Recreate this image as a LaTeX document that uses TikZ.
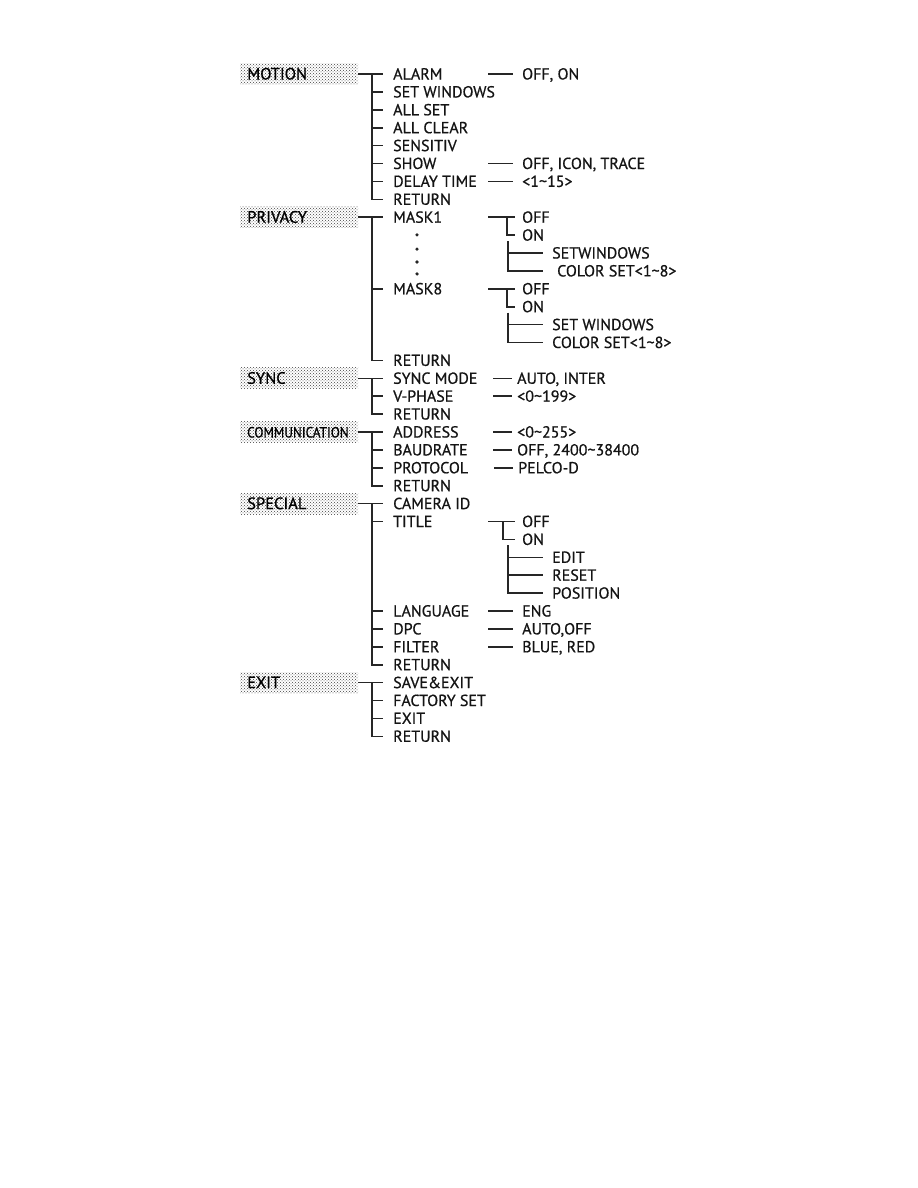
\documentclass[tikz,border=0pt]{standalone}
\usepackage{fontspec}
\setmainfont{PT Sans}[BoldFont=PT Sans,BoldFeatures={FakeBold=0.7}]
\usetikzlibrary{patterns}
\begin{document}
\begin{tikzpicture}[x=1pt,y=-17.9pt,
 item/.style={anchor=west,inner sep=0pt,text height=11pt,text depth=0pt,font=\fontsize{16}{18}\selectfont\bfseries,text=black!92},
 cat/.style={anchor=west,inner xsep=7pt,inner ysep=0pt,minimum height=21pt,text width=104pt,align=left,pattern=crosshatch dots,pattern color=black!75,font=\fontsize{16.5}{18}\selectfont\bfseries,text height=11pt,text depth=0pt,text=black},
 ln/.style={draw=black!85,line width=1.6pt},
 dotn/.style={circle,fill=black!85,inner sep=0pt,minimum size=3.6pt}]
\useasboundingbox (0,0) rectangle (918,66.369);
\begin{scope}[yshift=-74pt]
% ---------- MOTION ----------
\node[cat] (motion) at (240,0) {MOTION};
\node[item] (m0) at (393,0) {ALARM};
\node[item] (m1) at (393,1) {SET WINDOWS};
\node[item] (m2) at (393,2) {ALL SET};
\node[item] (m3) at (393,3) {ALL CLEAR};
\node[item] (m4) at (393,4) {SENSITIV};
\node[item] (m5) at (393,5) {SHOW};
\node[item] (m6) at (393,6) {DELAY TIME};
\node[item] (m7) at (393,7) {RETURN};
\draw[ln] (motion.east) -- ([xshift=-10pt]m0.west);
\draw[ln] ([xshift=-21pt]m0.west) |- ([xshift=-10pt]m7.west);
\foreach \n in {m1,m2,m3,m4,m5,m6} \draw[ln] ([xshift=-21pt]\n.west) -- ([xshift=-10pt]\n.west);
\node[item] (va) at (522,0) {OFF, ON};
\node[item] (vs) at (522,5) {OFF, ICON, TRACE};
\node[item] (vd) at (522,6) {<1\textasciitilde 15>};
\foreach \n in {va,vs,vd} \draw[ln] ([xshift=-34pt]\n.west) -- ([xshift=-9pt]\n.west);
% ---------- PRIVACY ----------
\node[cat] (privacy) at (240,8) {PRIVACY};
\node[item] (p8) at (393,8) {MASK1};
\node[item] (p12) at (393,12) {MASK8};
\node[item] (p16) at (393,16) {RETURN};
\node[dotn] (d1) at (417,8.99) {};
\node[dotn] (d2) at (417,9.78) {};
\node[dotn] (d3) at (417,10.50) {};
\node[dotn] (d4) at (417,11.17) {};
\draw[ln] (privacy.east) -- ([xshift=-10pt]p8.west);
\draw[ln] ([xshift=-21pt]p8.west) |- ([xshift=-10pt]p16.west);
\draw[ln] ([xshift=-21pt]p12.west) -- ([xshift=-10pt]p12.west);
% mask1 subtree
\node[item] (o1) at (522,8) {OFF};
\node[item] (n1) at (522,9) {ON};
\node[item] (s1) at (552,10) {SETWINDOWS};
\node[item] (c1) at (557,11) {COLOR SET<1\textasciitilde 8>};
\draw[ln] ([xshift=-34pt]o1.west) -- ([xshift=-7pt]o1.west);
\draw[ln] ([xshift=-15pt]o1.west) |- ([xshift=-7pt]n1.west);
\draw[ln] ([xshift=-14pt,yshift=-6pt]n1.west) |- ([xshift=-14pt]c1.west);
\draw[ln] ([xshift=-44pt]s1.west) -- ([xshift=-9pt]s1.west);
% mask8 subtree
\node[item] (o2) at (522,12) {OFF};
\node[item] (n2) at (522,13) {ON};
\node[item] (s2) at (552,14) {SET WINDOWS};
\node[item] (c2) at (552,15) {COLOR SET<1\textasciitilde 8>};
\draw[ln] ([xshift=-34pt]o2.west) -- ([xshift=-7pt]o2.west);
\draw[ln] ([xshift=-15pt]o2.west) |- ([xshift=-7pt]n2.west);
\draw[ln] ([xshift=-14pt,yshift=-6pt]n2.west) |- ([xshift=-9pt]c2.west);
\draw[ln] ([xshift=-44pt]s2.west) -- ([xshift=-9pt]s2.west);
% ---------- SYNC ----------
\node[cat] (sync) at (240,17) {SYNC};
\node[item] (y17) at (393,17) {SYNC MODE};
\node[item] (y18) at (393,18) {V-PHASE};
\node[item] (y19) at (393,19) {RETURN};
\draw[ln] (sync.east) -- ([xshift=-10pt]y17.west);
\draw[ln] ([xshift=-21pt]y17.west) |- ([xshift=-10pt]y19.west);
\draw[ln] ([xshift=-21pt]y18.west) -- ([xshift=-10pt]y18.west);
\node[item] (vy1) at (517,17) {AUTO, INTER};
\node[item] (vy2) at (517,18) {<0\textasciitilde 199>};
% ---------- COMMUNICATION ----------
\node[cat] (comm) at (240,20) {\scalebox{0.8}[0.9]{COMMUNICATION}};
\node[item] (k20) at (393,20) {ADDRESS};
\node[item] (k21) at (393,21) {BAUDRATE};
\node[item] (k22) at (393,22) {PROTOCOL};
\node[item] (k23) at (393,23) {RETURN};
\draw[ln] (comm.east) -- ([xshift=-10pt]k20.west);
\draw[ln] ([xshift=-21pt]k20.west) |- ([xshift=-10pt]k23.west);
\foreach \n in {k21,k22} \draw[ln] ([xshift=-21pt]\n.west) -- ([xshift=-10pt]\n.west);
\node[item] (vk1) at (517,20) {<0\textasciitilde 255>};
\node[item] (vk2) at (517,21) {OFF, 2400\textasciitilde 38400};
\node[item] (vk3) at (518,22) {PELCO-D};
\foreach \n in {vy1,vy2,vk1,vk2,vk3} \draw[ln] ([xshift=-24pt]\n.west) -- ([xshift=-5pt]\n.west);
% ---------- SPECIAL ----------
\node[cat] (special) at (240,24) {SPECIAL};
\node[item] (q24) at (393,24) {CAMERA ID};
\node[item] (q25) at (393,25) {TITLE};
\node[item] (q30) at (393,30) {LANGUAGE};
\node[item] (q31) at (393,31) {DPC};
\node[item] (q32) at (393,32) {FILTER};
\node[item] (q33) at (393,33) {RETURN};
\draw[ln] (special.east) -- ([xshift=-10pt]q24.west);
\draw[ln] ([xshift=-21pt]q24.west) |- ([xshift=-10pt]q33.west);
\foreach \n in {q25,q30,q31,q32} \draw[ln] ([xshift=-21pt]\n.west) -- ([xshift=-10pt]\n.west);
\node[item] (t0) at (522,25) {OFF};
\node[item] (t1) at (522,26) {ON};
\node[item] (t2) at (552,27) {EDIT};
\node[item] (t3) at (552,28) {RESET};
\node[item] (t4) at (552,29) {POSITION};
\draw[ln] ([xshift=-34pt]t0.west) -- ([xshift=-7pt]t0.west);
\draw[ln] ([xshift=-19pt]t0.west) |- ([xshift=-7pt]t1.west);
\draw[ln] ([xshift=-14pt,yshift=-6pt]t1.west) |- ([xshift=-9pt]t4.west);
\foreach \n in {t2,t3} \draw[ln] ([xshift=-44pt]\n.west) -- ([xshift=-9pt]\n.west);
\node[item] (vl) at (522,30) {ENG};
\node[item] (vp) at (522,31) {AUTO,OFF};
\node[item] (vf) at (522,32) {BLUE, RED};
\foreach \n in {vl,vp,vf} \draw[ln] ([xshift=-34pt]\n.west) -- ([xshift=-9pt]\n.west);
% ---------- EXIT ----------
\node[cat] (exit) at (240,34) {EXIT};
\node[item] (e34) at (393,34) {SAVE\&EXIT};
\node[item] (e35) at (393,35) {FACTORY SET};
\node[item] (e36) at (393,36) {EXIT};
\node[item] (e37) at (393,37) {RETURN};
\draw[ln] (exit.east) -- ([xshift=-10pt]e34.west);
\draw[ln] ([xshift=-21pt]e34.west) |- ([xshift=-10pt]e37.west);
\foreach \n in {e35,e36} \draw[ln] ([xshift=-21pt]\n.west) -- ([xshift=-10pt]\n.west);
\end{scope}
\end{tikzpicture}
\end{document}
